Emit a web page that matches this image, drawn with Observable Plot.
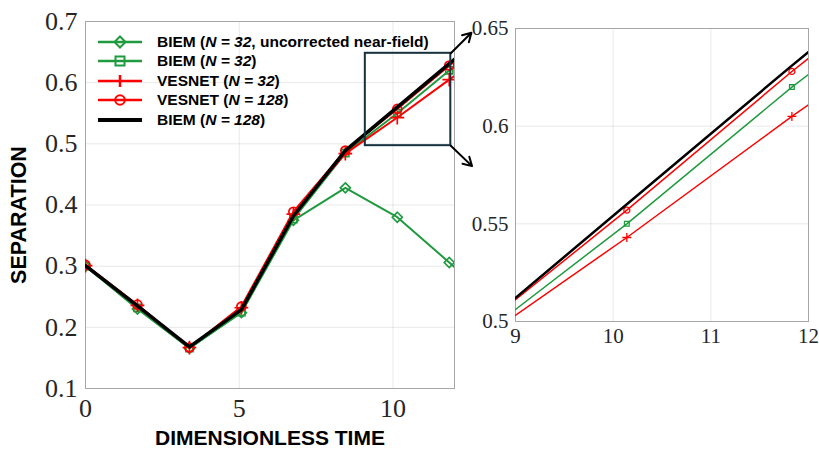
<!DOCTYPE html>
<html>
<head>
<meta charset="utf-8">
<script src="https://cdn.jsdelivr.net/npm/d3@7"></script>
<script src="https://cdn.jsdelivr.net/npm/@observablehq/plot@0.6"></script>
<style>
  body { margin: 0; background: #fff; }
  #wrap { position: relative; width: 819px; height: 450px; background: #fff; overflow: hidden; }
  #wrap > svg { position: absolute; top: 0; }
  #legend { position: absolute; left: 98px; top: 32px; font-family: "Liberation Sans", Arial, sans-serif; font-weight: bold; font-size: 15.5px; color: #000; }
  #legend .row { height: 19.5px; display: flex; align-items: center; white-space: nowrap; }
  #legend svg { width: 44px; height: 16px; margin-right: 15px; flex: none; }
</style>
</head>
<body>
<div id="wrap"><div id="legend"></div></div>
<script>
// ---- data ----
const time = [0, 1.69, 3.38, 5.07, 6.76, 8.45, 10.14, 11.83, 13.52];
const biem32Uncorrected = [0.300, 0.230, 0.166, 0.224, 0.375, 0.428, 0.380, 0.306, 0.232];
const biem32 = [0.300, 0.232, 0.166, 0.225, 0.377, 0.485, 0.550, 0.620, 0.684];
const vesnet32 = [0.301, 0.236, 0.167, 0.232, 0.385, 0.484, 0.543, 0.605, 0.664];
const vesnet128 = [0.302, 0.237, 0.167, 0.234, 0.389, 0.489, 0.557, 0.628, 0.695];
const biem128 = [0.301, 0.235, 0.168, 0.229, 0.382, 0.489, 0.560, 0.631, 0.701];

const seriesNames = ["BIEM32U", "BIEM32", "VESNET32", "VESNET128", "BIEM128"];
const seriesValues = [biem32Uncorrected, biem32, vesnet32, vesnet128, biem128];
const legendMain = ["BIEM (", "BIEM (", "VESNET (", "VESNET (", "BIEM ("];
const legendItalic = ["N = 32", "N = 32", "N = 32", "N = 128", "N = 128"];
const legendTail = [", uncorrected near-field)", ")", ")", ")", ")"];

const xTicksMain = [0, 5, 10];
const yTicksMain = [0.1, 0.2, 0.3, 0.4, 0.5, 0.6, 0.7];
const xTicksInset = [9, 10, 11, 12];
const yTicksInset = [0.5, 0.55, 0.6, 0.65];

const zoomX = [9.1, 11.88];
const zoomY = [0.497, 0.648];
const arrowEndX = [12.55, 12.57];
const arrowEndY = [0.6815, 0.4636];

// ---- styles ----
const green = "#1f9a3f", red = "#ff0000";
const styleOf = {
  BIEM32U: {color: green, symbol: "diamond2"},
  BIEM32: {color: green, symbol: "square2"},
  VESNET32: {color: red, symbol: "plus"},
  VESNET128: {color: red, symbol: "circle"},
  BIEM128: {color: "#000", symbol: null}
};

const rows = [];
seriesNames.forEach((s, i) => time.forEach((t, j) => rows.push({series: s, t, v: seriesValues[i][j]})));

function layers(markR, colW, blackW, xMax) {
  const out = [];
  for (const s of seriesNames) {
    const st = styleOf[s];
    const d = rows.filter(r => r.series === s);
    out.push(Plot.line(d, {x: "t", y: "v", stroke: st.color, strokeWidth: s === "BIEM128" ? blackW : colW, clip: "frame"}));
    if (st.symbol) {
      out.push(Plot.dot(d.filter(r => r.t <= xMax), {x: "t", y: "v", symbol: () => st.symbol, r: markR, stroke: st.color, strokeWidth: colW * 0.85, fill: "none", clip: "frame"}));
    }
  }
  return out;
}

const serif = "'Liberation Serif', 'Times New Roman', serif";
const sans = "'Liberation Sans', Arial, sans-serif";

const main = Plot.plot({
  width: 480, height: 450,
  marginLeft: 85, marginRight: 26, marginTop: 21, marginBottom: 62,
  style: {fontFamily: serif, fontSize: "26px", color: "#262626", background: "transparent", overflow: "visible"},
  x: {domain: [0, 12]},
  y: {domain: [0.1, 0.7]},
  marks: [
    Plot.gridX(xTicksMain, {stroke: "#000", strokeOpacity: 0.09}),
    Plot.gridY(yTicksMain, {stroke: "#000", strokeOpacity: 0.09}),
    Plot.frame({stroke: "#a6a6a6", strokeWidth: 1}),
    Plot.axisX({ticks: xTicksMain, tickSize: 0, tickPadding: 10, tickFormat: d3.format("d"), label: null, fontSize: 26, fontFamily: serif}),
    Plot.axisY({ticks: yTicksMain, tickSize: 0, tickPadding: 8, tickFormat: d3.format(".1f"), label: null, fontSize: 26, fontFamily: serif}),
    ...layers(4.5, 2, 3.5, 12),
    Plot.rect([0], {x1: () => zoomX[0], x2: () => zoomX[1], y1: () => zoomY[0], y2: () => zoomY[1], fill: "none", stroke: "#17303f", strokeWidth: 2}),
    Plot.arrow([0, 1], {x1: () => zoomX[1], y1: i => zoomY[1 - i], x2: (d, i) => arrowEndX[i], y2: (d, i) => arrowEndY[i], stroke: "#000", strokeWidth: 2, headLength: 10, bend: 0}),
    Plot.text(["DIMENSIONLESS TIME"], {frameAnchor: "bottom", dy: 50, lineAnchor: "middle", fontFamily: sans, fontWeight: 900, fontSize: 21, fill: "#000"}),
    Plot.text(["SEPARATION"], {frameAnchor: "left", dx: -66, dy: 10, rotate: -90, textAnchor: "middle", lineAnchor: "middle", fontFamily: sans, fontWeight: 900, fontSize: 21.5, fill: "#000"})
  ]
});
main.style.left = "0px";

const inset = Plot.plot({
  width: 379, height: 450,
  marginLeft: 75, marginRight: 11, marginTop: 28, marginBottom: 129,
  style: {fontFamily: serif, fontSize: "21px", color: "#262626", background: "transparent", overflow: "visible"},
  x: {domain: [9, 12]},
  y: {domain: [0.5, 0.65]},
  marks: [
    Plot.gridX(xTicksInset, {stroke: "#000", strokeOpacity: 0.09}),
    Plot.gridY(yTicksInset, {stroke: "#000", strokeOpacity: 0.09}),
    Plot.frame({stroke: "#a6a6a6", strokeWidth: 1}),
    Plot.axisX({ticks: xTicksInset, tickSize: 0, tickPadding: 7, tickFormat: d3.format("d"), label: null, fontSize: 21, fontFamily: serif}),
    Plot.axisY({ticks: yTicksInset, tickSize: 0, tickPadding: 7, tickFormat: d => String(+d.toFixed(2)), label: null, fontSize: 21, fontFamily: serif}),
    ...layers(3, 1.5, 2.5, 12)
  ]
});
inset.style.left = "440px";

const wrap = document.getElementById("wrap");
wrap.insertBefore(inset, wrap.firstChild);
wrap.insertBefore(main, wrap.firstChild);

// ---- legend ----
const legend = document.getElementById("legend");
function symbolSvg(s) {
  const st = styleOf[s];
  const w = s === "BIEM128" ? 4 : 2.5;
  let m = "";
  const c = st.color;
  if (st.symbol === "diamond2") m = `<path d="M22 2.5 L27.5 8 L22 13.5 L16.5 8 Z" fill="none" stroke="${c}" stroke-width="2"/>`;
  if (st.symbol === "square2") m = `<rect x="17.5" y="3.5" width="9" height="9" fill="none" stroke="${c}" stroke-width="2"/>`;
  if (st.symbol === "plus") m = `<path d="M22 2 V14" stroke="${c}" stroke-width="2.5"/>`;
  if (st.symbol === "circle") m = `<circle cx="22" cy="8" r="4.8" fill="none" stroke="${c}" stroke-width="2"/>`;
  return `<svg viewBox="0 0 44 16"><line x1="0" y1="8" x2="44" y2="8" stroke="${c}" stroke-width="${w}"/>${m}</svg>`;
}
seriesNames.forEach((s, i) => {
  const row = document.createElement("div");
  row.className = "row";
  row.innerHTML = symbolSvg(s) + `<span>${legendMain[i]}<i>${legendItalic[i]}</i>${legendTail[i]}</span>`;
  legend.appendChild(row);
});
</script>
</body>
</html>
